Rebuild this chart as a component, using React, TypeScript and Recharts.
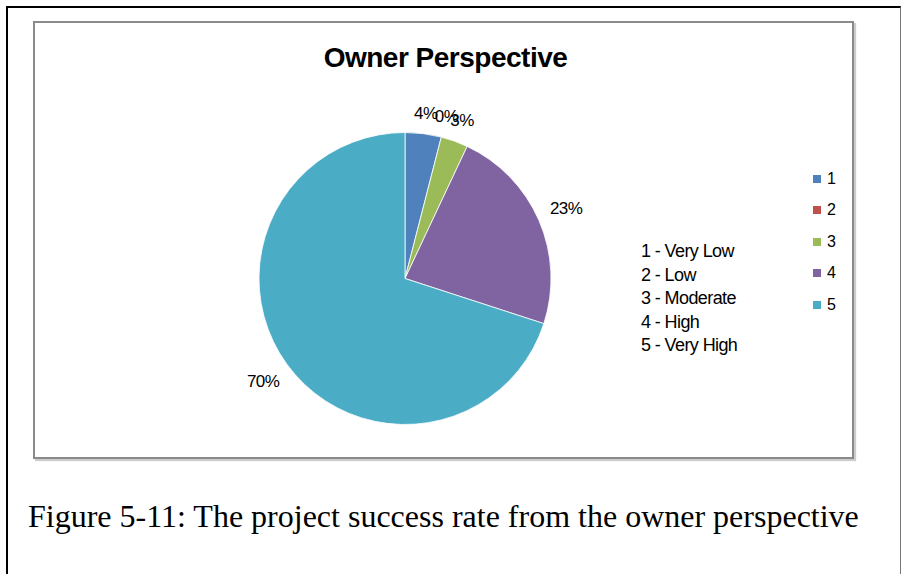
import { PieChart, Pie, Cell, Legend } from 'recharts';

const LEVELS = ['1', '2', '3', '4', '5'];
const SHARES = [4, 0, 3, 23, 70];
const SCALE_LABELS = ['1 - Very Low', '2 - Low', '3 - Moderate', '4 - High', '5 - Very High'];
const COLORS = ['#4F81BD', '#C0504D', '#9BBB59', '#8064A2', '#4BACC6'];

const RAD = Math.PI / 180;
const FONT = '"Liberation Sans", Arial, sans-serif';

function renderLabel(props: any) {
  const { cx, cy, midAngle, outerRadius, value } = props;
  const text = `${value}%`;
  const halfW = text.length * 5.6;
  const halfH = 8;
  const cos = Math.cos(-midAngle * RAD);
  const sin = Math.sin(-midAngle * RAD);
  const d = outerRadius + 11 + halfW * Math.abs(cos) + halfH * Math.abs(sin);
  return (
    <text
      x={cx + d * cos}
      y={cy + d * sin}
      textAnchor="middle"
      dominantBaseline="central"
      fill="#000"
      fontSize={17}
      fontFamily={FONT}
      letterSpacing={-0.5}
    >
      {text}
    </text>
  );
}

function renderLegend(props: any) {
  const { payload } = props;
  return (
    <div>
      {(payload || []).map((entry: any, i: number) => (
        <div
          key={i}
          style={{ display: 'flex', alignItems: 'center', height: 31.5, fontSize: 16, fontFamily: FONT }}
        >
          <span style={{ width: 8, height: 8, background: entry.color, marginRight: 6 }} />
          <span>{entry.value}</span>
        </div>
      ))}
    </div>
  );
}

export default function App() {
  const data = LEVELS.map((name, i) => ({ name, value: SHARES[i] }));

  return (
    <div
      style={{
        position: 'absolute',
        left: 0,
        top: 0,
        width: 902,
        height: 574,
        background: '#fff',
        overflow: 'hidden',
        fontFamily: FONT,
      }}
    >
      <div
        style={{
          position: 'absolute',
          left: 6,
          top: 6,
          width: 895,
          height: 568,
          borderTop: '2px solid #000',
          borderLeft: '2px solid #000',
          borderRight: '1px solid #777',
          boxSizing: 'border-box',
        }}
      />
      <div
        style={{
          position: 'absolute',
          left: 33,
          top: 21,
          width: 821,
          height: 438,
          border: '2px solid #8a8a8a',
          boxSizing: 'border-box',
          boxShadow: '2px 2px 1px rgba(0,0,0,0.2)',
        }}
      >
        <div
          style={{
            position: 'absolute',
            left: 0,
            top: 19,
            width: 821,
            textAlign: 'center',
            fontSize: 28,
            lineHeight: '32px',
            fontWeight: 'bold',
            letterSpacing: -0.5,
          }}
        >
          Owner Perspective
        </div>
        <div
          style={{
            position: 'absolute',
            left: 606,
            top: 217,
            fontSize: 18,
            lineHeight: '23.5px',
            letterSpacing: -0.6,
          }}
        >
          {SCALE_LABELS.map((s) => (
            <div key={s}>{s}</div>
          ))}
        </div>
        <PieChart width={817} height={434}>
          <Pie
            data={data}
            dataKey="value"
            nameKey="name"
            cx={365}
            cy={250.5}
            outerRadius={146}
            startAngle={90}
            endAngle={-270}
            label={renderLabel}
            labelLine={false}
            stroke="#fff"
            strokeWidth={0.8}
            isAnimationActive={false}
          >
            {data.map((d, i) => (
              <Cell key={d.name} fill={COLORS[i]} stroke={d.value === 0 ? COLORS[i] : '#fff'} />
            ))}
          </Pie>
          <Legend
            layout="vertical"
            align="right"
            verticalAlign="top"
            content={renderLegend}
            wrapperStyle={{ left: 778, top: 140, width: 40 }}
          />
        </PieChart>
      </div>
      <div
        style={{
          position: 'absolute',
          left: 28,
          top: 497,
          fontFamily: '"Liberation Serif", "Times New Roman", serif',
          fontSize: 32,
          lineHeight: '38px',
          whiteSpace: 'nowrap',
        }}
      >
        Figure 5-11: The project success rate from the owner perspective
      </div>
    </div>
  );
}
